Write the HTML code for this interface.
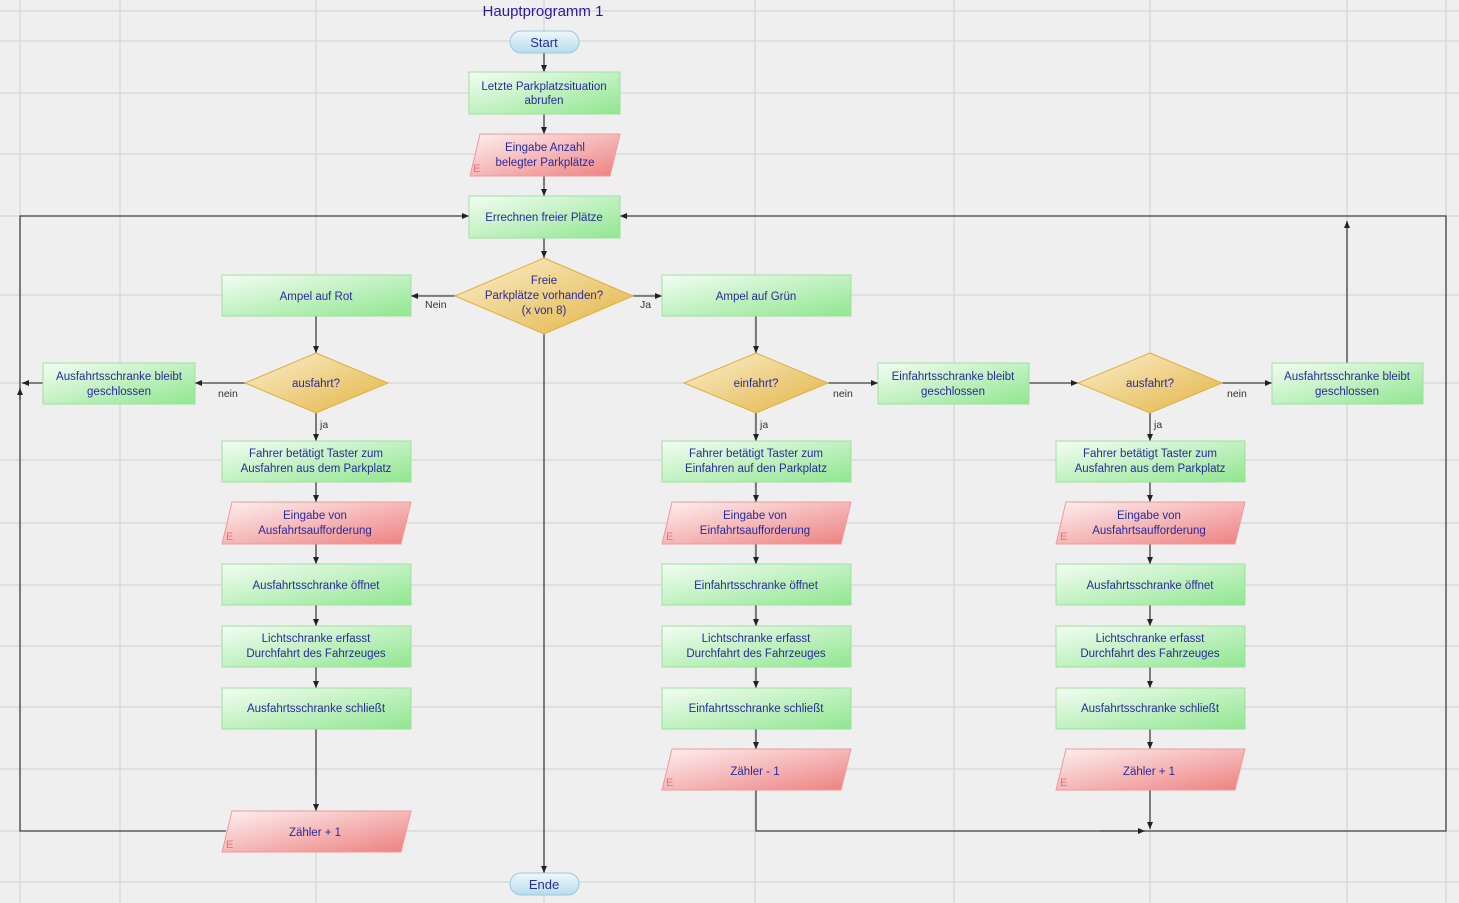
<!DOCTYPE html>
<html><head><meta charset="utf-8"><style>
html,body{margin:0;padding:0;background:#efefef;}
svg{display:block;font-family:"Liberation Sans",sans-serif;}
.t{font-size:11.5px;fill:#2a2a9a;text-anchor:middle;}
.l{font-size:10.5px;fill:#333;}
.c{stroke:#444;stroke-width:1.3;fill:none;}
.g{fill:url(#gg);stroke:#9fe09f;stroke-width:1;}
.r{fill:url(#gr);stroke:#ee9a9a;stroke-width:1;}
.d{fill:url(#gd);stroke:#ddb040;stroke-width:1;}
.p{fill:url(#gp);stroke:#9cc8dc;stroke-width:1;}
.e{font-size:11px;fill:#f07070;}
</style></head><body>
<svg width="1459" height="903" viewBox="0 0 1459 903">
<defs>
<linearGradient id="gg" x1="0" y1="0" x2="1" y2="1"><stop offset="0" stop-color="#f3fdf3"/><stop offset="1" stop-color="#90e690"/></linearGradient>
<linearGradient id="gr" x1="0" y1="0" x2="1" y2="1"><stop offset="0" stop-color="#fdf0f0"/><stop offset="1" stop-color="#ee8080"/></linearGradient>
<linearGradient id="gd" x1="0" y1="0" x2="1" y2="1"><stop offset="0" stop-color="#fbefcc"/><stop offset="1" stop-color="#e2b444"/></linearGradient>
<linearGradient id="gp" x1="0" y1="0" x2="0" y2="1"><stop offset="0" stop-color="#eef8fc"/><stop offset="1" stop-color="#b6dcec"/></linearGradient>
<marker id="a" markerWidth="8" markerHeight="8" refX="7" refY="4" orient="auto" markerUnits="userSpaceOnUse"><path d="M0,1 L7,4 L0,7 z" fill="#222"/></marker>
</defs>
<g stroke="#dadada" stroke-width="1.5">
<line x1="20" y1="0" x2="20" y2="903"/><line x1="120" y1="0" x2="120" y2="903"/><line x1="316" y1="0" x2="316" y2="903"/><line x1="544" y1="0" x2="544" y2="903"/><line x1="755" y1="0" x2="755" y2="903"/><line x1="954" y1="0" x2="954" y2="903"/><line x1="1150" y1="0" x2="1150" y2="903"/><line x1="1347" y1="0" x2="1347" y2="903"/><line x1="1446" y1="0" x2="1446" y2="903"/>
<line x1="0" y1="11" x2="1459" y2="11"/><line x1="0" y1="41" x2="1459" y2="41"/><line x1="0" y1="93" x2="1459" y2="93"/><line x1="0" y1="154" x2="1459" y2="154"/><line x1="0" y1="216" x2="1459" y2="216"/><line x1="0" y1="295" x2="1459" y2="295"/><line x1="0" y1="383" x2="1459" y2="383"/><line x1="0" y1="460" x2="1459" y2="460"/><line x1="0" y1="523" x2="1459" y2="523"/><line x1="0" y1="585" x2="1459" y2="585"/><line x1="0" y1="646" x2="1459" y2="646"/><line x1="0" y1="707" x2="1459" y2="707"/><line x1="0" y1="769" x2="1459" y2="769"/><line x1="0" y1="831" x2="1459" y2="831"/><line x1="0" y1="882" x2="1459" y2="882"/>
</g>
<!-- connectors -->
<g class="c">
<line x1="544" y1="53" x2="544" y2="72" marker-end="url(#a)"/>
<line x1="544" y1="114" x2="544" y2="134" marker-end="url(#a)"/>
<line x1="544" y1="176" x2="544" y2="196" marker-end="url(#a)"/>
<line x1="544" y1="238" x2="544" y2="258" marker-end="url(#a)"/>
<line x1="544" y1="334" x2="544" y2="873" marker-end="url(#a)"/>
<line x1="455" y1="296" x2="411" y2="296" marker-end="url(#a)"/>
<line x1="633" y1="296" x2="662" y2="296" marker-end="url(#a)"/>
<polyline points="226,831 20,831 20,216 469,216" marker-end="url(#a)"/>
<line x1="20" y1="400" x2="20" y2="388" marker-end="url(#a)"/>
<line x1="43" y1="383" x2="22" y2="383" marker-end="url(#a)"/>
<polyline points="756,790 756,831 1446,831 1446,216 620,216" marker-end="url(#a)"/>
<line x1="1100" y1="831" x2="1145" y2="831" marker-end="url(#a)"/>
<line x1="1347" y1="363" x2="1347" y2="221" marker-end="url(#a)"/>
<line x1="1150" y1="790" x2="1150" y2="829" marker-end="url(#a)"/>
<line x1="245" y1="383" x2="195" y2="383" marker-end="url(#a)"/>
<line x1="828" y1="383" x2="878" y2="383" marker-end="url(#a)"/>
<line x1="1029" y1="383" x2="1078" y2="383" marker-end="url(#a)"/>
<line x1="1222" y1="383" x2="1272" y2="383" marker-end="url(#a)"/>
<line x1="316" y1="729" x2="316" y2="811" marker-end="url(#a)"/>
</g>
<g class="c" id="col">
<line x1="316" y1="316" x2="316" y2="353" marker-end="url(#a)"/><line x1="316" y1="413" x2="316" y2="441" marker-end="url(#a)"/><line x1="316" y1="482" x2="316" y2="502" marker-end="url(#a)"/><line x1="316" y1="544" x2="316" y2="564" marker-end="url(#a)"/><line x1="316" y1="605" x2="316" y2="626" marker-end="url(#a)"/><line x1="316" y1="667" x2="316" y2="688" marker-end="url(#a)"/>
<line x1="756" y1="316" x2="756" y2="353" marker-end="url(#a)"/><line x1="756" y1="413" x2="756" y2="441" marker-end="url(#a)"/><line x1="756" y1="482" x2="756" y2="502" marker-end="url(#a)"/><line x1="756" y1="544" x2="756" y2="564" marker-end="url(#a)"/><line x1="756" y1="605" x2="756" y2="626" marker-end="url(#a)"/><line x1="756" y1="667" x2="756" y2="688" marker-end="url(#a)"/><line x1="756" y1="729" x2="756" y2="749" marker-end="url(#a)"/>
<line x1="1150" y1="413" x2="1150" y2="441" marker-end="url(#a)"/><line x1="1150" y1="482" x2="1150" y2="502" marker-end="url(#a)"/><line x1="1150" y1="544" x2="1150" y2="564" marker-end="url(#a)"/><line x1="1150" y1="605" x2="1150" y2="626" marker-end="url(#a)"/><line x1="1150" y1="667" x2="1150" y2="688" marker-end="url(#a)"/><line x1="1150" y1="729" x2="1150" y2="749" marker-end="url(#a)"/>
</g>
<!-- title -->
<text x="543" y="16" style="font-size:15px;fill:#2a1aa0;text-anchor:middle">Hauptprogramm 1</text>
<!-- top -->
<rect class="p" x="510" y="31" width="69" height="22" rx="11"/><text class="t" x="544" y="47" style="font-size:13px">Start</text>
<rect class="p" x="510" y="873" width="69" height="22" rx="11"/><text class="t" x="544" y="889" style="font-size:13px">Ende</text>
<rect class="g" x="469" y="72" width="151" height="42"/><text class="t" x="544" y="90">Letzte Parkplatzsituation</text><text class="t" x="544" y="104">abrufen</text>
<polygon class="r" points="480,134 620,134 610,176 470,176"/><text class="t" x="545" y="151">Eingabe Anzahl</text><text class="t" x="545" y="166">belegter Parkplätze</text><text class="e" x="473" y="172">E</text>
<rect class="g" x="469" y="196" width="151" height="42"/><text class="t" x="544" y="221">Errechnen freier Plätze</text>
<polygon class="d" points="544,258 633,296 544,334 455,296"/><text class="t" x="544" y="284">Freie</text><text class="t" x="544" y="299">Parkplätze vorhanden?</text><text class="t" x="544" y="314">(x von 8)</text>
<text class="l" x="425" y="308">Nein</text><text class="l" x="640" y="308">Ja</text>
<rect class="g" x="222" y="275" width="189" height="41"/><text class="t" x="316" y="300">Ampel auf Rot</text>
<rect class="g" x="662" y="275" width="189" height="41"/><text class="t" x="756" y="300">Ampel auf Grün</text>
<!-- left column -->
<polygon class="d" points="316,353 388,383 316,413 245,383"/><text class="t" x="316" y="387">ausfahrt?</text>
<rect class="g" x="43" y="363" width="152" height="41"/><text class="t" x="119" y="380">Ausfahrtsschranke bleibt</text><text class="t" x="119" y="395">geschlossen</text>
<text class="l" x="218" y="397">nein</text><text class="l" x="320" y="428">ja</text>
<rect class="g" x="222" y="441" width="189" height="41"/><text class="t" x="316" y="457">Fahrer betätigt Taster zum</text><text class="t" x="316" y="472">Ausfahren aus dem Parkplatz</text>
<polygon class="r" points="232,502 411,502 401,544 222,544"/><text class="t" x="315" y="519">Eingabe von</text><text class="t" x="315" y="534">Ausfahrtsaufforderung</text><text class="e" x="226" y="540">E</text>
<rect class="g" x="222" y="564" width="189" height="41"/><text class="t" x="316" y="589">Ausfahrtsschranke öffnet</text>
<rect class="g" x="222" y="626" width="189" height="41"/><text class="t" x="316" y="642">Lichtschranke erfasst</text><text class="t" x="316" y="657">Durchfahrt des Fahrzeuges</text>
<rect class="g" x="222" y="688" width="189" height="41"/><text class="t" x="316" y="712">Ausfahrtsschranke schließt</text>
<polygon class="r" points="232,811 411,811 401,852 222,852"/><text class="t" x="315" y="836">Zähler + 1</text><text class="e" x="226" y="848">E</text>
<!-- middle column -->
<polygon class="d" points="756,353 828,383 756,413 684,383"/><text class="t" x="756" y="387">einfahrt?</text>
<rect class="g" x="878" y="363" width="151" height="41"/><text class="t" x="953" y="380">Einfahrtsschranke bleibt</text><text class="t" x="953" y="395">geschlossen</text>
<text class="l" x="833" y="397">nein</text><text class="l" x="760" y="428">ja</text>
<rect class="g" x="662" y="441" width="189" height="41"/><text class="t" x="756" y="457">Fahrer betätigt Taster zum</text><text class="t" x="756" y="472">Einfahren auf den Parkplatz</text>
<polygon class="r" points="672,502 851,502 841,544 662,544"/><text class="t" x="755" y="519">Eingabe von</text><text class="t" x="755" y="534">Einfahrtsaufforderung</text><text class="e" x="666" y="540">E</text>
<rect class="g" x="662" y="564" width="189" height="41"/><text class="t" x="756" y="589">Einfahrtsschranke öffnet</text>
<rect class="g" x="662" y="626" width="189" height="41"/><text class="t" x="756" y="642">Lichtschranke erfasst</text><text class="t" x="756" y="657">Durchfahrt des Fahrzeuges</text>
<rect class="g" x="662" y="688" width="189" height="41"/><text class="t" x="756" y="712">Einfahrtsschranke schließt</text>
<polygon class="r" points="672,749 851,749 841,790 662,790"/><text class="t" x="755" y="775">Zähler - 1</text><text class="e" x="666" y="786">E</text>
<!-- right column -->
<polygon class="d" points="1150,353 1222,383 1150,413 1078,383"/><text class="t" x="1150" y="387">ausfahrt?</text>
<rect class="g" x="1272" y="363" width="151" height="41"/><text class="t" x="1347" y="380">Ausfahrtsschranke bleibt</text><text class="t" x="1347" y="395">geschlossen</text>
<text class="l" x="1227" y="397">nein</text><text class="l" x="1154" y="428">ja</text>
<rect class="g" x="1056" y="441" width="189" height="41"/><text class="t" x="1150" y="457">Fahrer betätigt Taster zum</text><text class="t" x="1150" y="472">Ausfahren aus dem Parkplatz</text>
<polygon class="r" points="1066,502 1245,502 1235,544 1056,544"/><text class="t" x="1149" y="519">Eingabe von</text><text class="t" x="1149" y="534">Ausfahrtsaufforderung</text><text class="e" x="1060" y="540">E</text>
<rect class="g" x="1056" y="564" width="189" height="41"/><text class="t" x="1150" y="589">Ausfahrtsschranke öffnet</text>
<rect class="g" x="1056" y="626" width="189" height="41"/><text class="t" x="1150" y="642">Lichtschranke erfasst</text><text class="t" x="1150" y="657">Durchfahrt des Fahrzeuges</text>
<rect class="g" x="1056" y="688" width="189" height="41"/><text class="t" x="1150" y="712">Ausfahrtsschranke schließt</text>
<polygon class="r" points="1066,749 1245,749 1235,790 1056,790"/><text class="t" x="1149" y="775">Zähler + 1</text><text class="e" x="1060" y="786">E</text>
</svg>
</body></html>
